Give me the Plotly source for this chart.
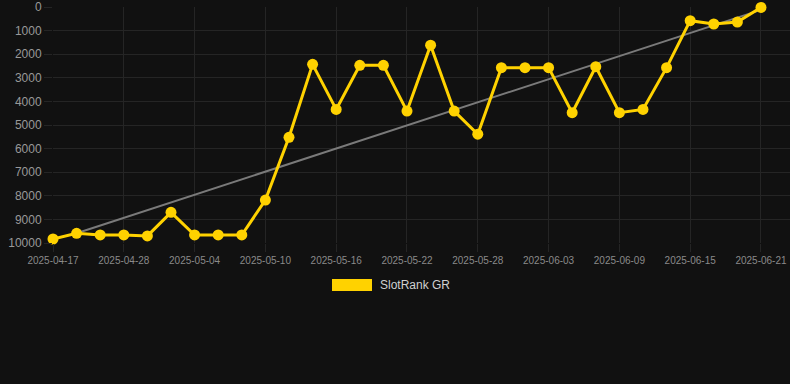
import plotly.graph_objects as go

dates = ["2025-04-17", "2025-04-21", "2025-04-25", "2025-04-28", "2025-04-30", "2025-05-02",
         "2025-05-04", "2025-05-06", "2025-05-08", "2025-05-10", "2025-05-12", "2025-05-14",
         "2025-05-16", "2025-05-18", "2025-05-20", "2025-05-22", "2025-05-24", "2025-05-26",
         "2025-05-28", "2025-05-30", "2025-06-01", "2025-06-03", "2025-06-05", "2025-06-07",
         "2025-06-09", "2025-06-11", "2025-06-13", "2025-06-15", "2025-06-17", "2025-06-19",
         "2025-06-21"]
rank = [9830, 9590, 9660, 9660, 9700, 8700, 9660, 9660, 9660, 8180, 5520, 2430,
        4340, 2470, 2470, 4410, 1620, 4410, 5390, 2570, 2570, 2570, 4480, 2530,
        4480, 4340, 2570, 580, 720, 640, 20]
trend_dates = ["2025-04-21", "2025-06-21"]
trend_vals = [9590, 120]
tick_dates = dates[::3]
y_ticks = [0, 1000, 2000, 3000, 4000, 5000, 6000, 7000, 8000, 9000, 10000]
y_tick_text = [str(v) for v in y_ticks]

BG = "#111111"
GRID = "#252525"
YELLOW = "#FFD200"

fig = go.Figure()
fig.add_trace(go.Scatter(x=trend_dates, y=trend_vals, mode="lines",
                         line=dict(color="#7a7a7a", width=2), showlegend=False,
                         hoverinfo="skip", cliponaxis=False))
fig.add_trace(go.Scatter(x=dates, y=rank, mode="lines+markers", name="SlotRank GR",
                         line=dict(color=YELLOW, width=3),
                         marker=dict(color=YELLOW, size=11), showlegend=False,
                         cliponaxis=False))

# legend drawn manually (wide colour box)
L, R, T, B = 53, 790, 7, 243
def px(x):
    return (x - L) / (R - L)
def py(y):
    return (B - y) / (B - T)

fig.add_shape(type="rect", xref="paper", yref="paper",
              x0=px(332), x1=px(372), y0=py(291), y1=py(279),
              fillcolor=YELLOW, line=dict(width=0))
fig.add_annotation(xref="paper", yref="paper", x=px(378), y=py(285),
                   text="SlotRank GR", showarrow=False, xanchor="left", yanchor="middle",
                   font=dict(family="Arial, Liberation Sans, sans-serif", size=12, color="#d0d0d0"))

fig.update_layout(
    width=790, height=384,
    margin=dict(l=L, r=790 - R, t=T, b=384 - B),
    paper_bgcolor=BG, plot_bgcolor=BG,
    font=dict(family="Arial, Liberation Sans, sans-serif", color="#999999"),
    showlegend=False,
)
fig.update_xaxes(type="category", categoryorder="array", categoryarray=dates,
                 range=[0, 31.23], tickmode="array", tickvals=tick_dates, ticktext=tick_dates,
                 showgrid=True, gridcolor=GRID, gridwidth=1, zeroline=False,
                 ticks="outside", ticklen=8, tickcolor=GRID,
                 tickfont=dict(size=10, color="#8a8a8a"), showline=False)
fig.update_yaxes(range=[10000, 0], tickmode="array", tickvals=y_ticks, ticktext=y_tick_text,
                 showgrid=True, gridcolor=GRID, gridwidth=1, zeroline=False,
                 ticks="outside", ticklen=8, tickcolor=GRID,
                 tickfont=dict(size=12, color="#999999"), showline=False)

fig.write_html("out.html")
